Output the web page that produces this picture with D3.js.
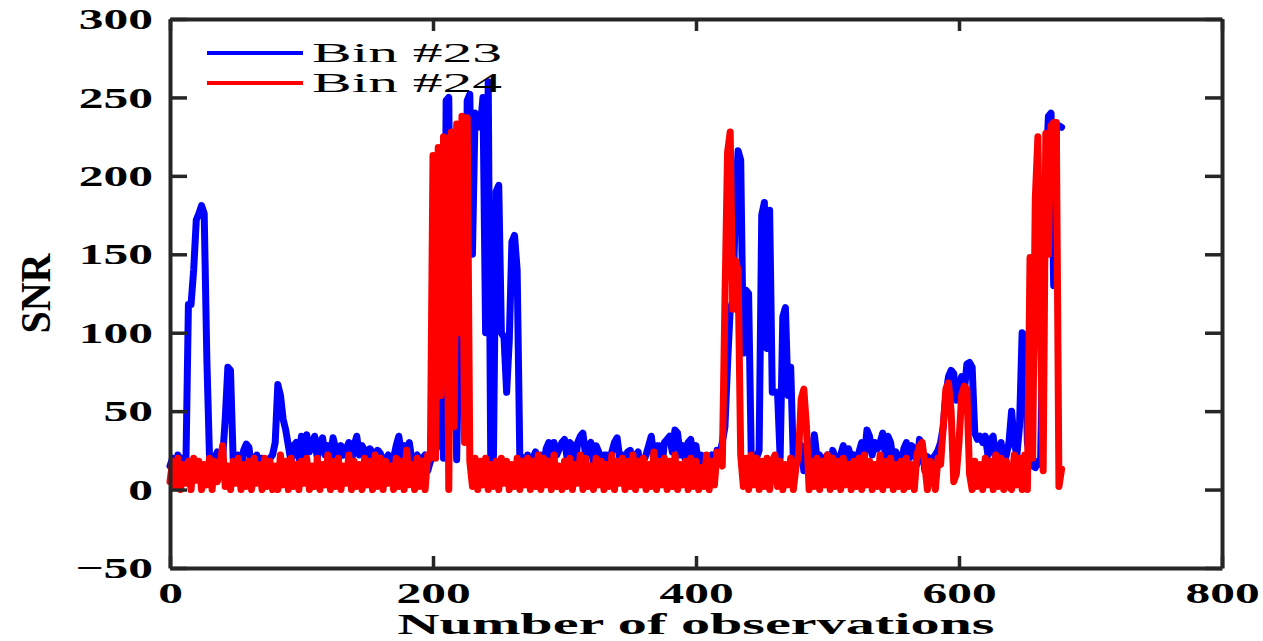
<!DOCTYPE html>
<html>
<head>
<meta charset="utf-8">
<script src="https://cdn.jsdelivr.net/npm/d3@7"></script>
<style>
  html, body { margin: 0; padding: 0; background: #fff; }
  svg { display: block; }
  text { font-family: "Liberation Serif", "Times New Roman", serif; fill: #000; }
</style>
</head>
<body>
<svg id="chart" width="1263" height="641"></svg>
<script>
// SNR per observation, sampled every STEP observations (index i -> observation i*STEP)
const STEP = 2;

const bin23 = [
  15, 20, 8, 22, 16, 20, 10, 118, 118, 140,       // 0-18
  172, 176, 181, 176, 84, 22, 10, 20, 24, 12,     // 20-38
  20, 45, 78, 76, 20, 8, 22, 12, 25, 29,          // 40-58
  27, 14, 18, 22, 10, 20, 18, 8, 20, 22,          // 60-78
  30, 67, 60, 45, 38, 28, 18, 28, 30, 20,         // 80-98
  34, 22, 35, 24, 28, 34, 20, 30, 33, 22,         // 100-118
  28, 20, 33, 26, 18, 28, 22, 26, 30, 18,         // 120-138
  28, 34, 22, 28, 25, 14, 26, 24, 12, 25,         // 140-158
  23, 10, 20, 22, 8, 20, 28, 34, 22, 28,          // 160-178
  24, 30, 18, 20, 22, 10, 20, 22, 12, 18,         // 180-198
  22, 25, 30, 140, 20, 248, 250, 60, 113, 19,     // 200-218
  113, 230, 40, 248, 252, 150, 240, 236, 231, 250, // 220-238
  100, 260, 5, 22, 190, 194, 100, 97, 62, 95,     // 240-258
  158, 162, 140, 22, 20, 8, 22, 15, 20, 24,       // 260-278
  18, 22, 10, 26, 30, 18, 30, 22, 26, 30,         // 280-298
  32, 20, 30, 28, 14, 30, 34, 36, 22, 28,         // 300-318
  30, 16, 28, 24, 12, 22, 22, 10, 24, 30,         // 320-338
  33, 20, 22, 10, 24, 25, 14, 22, 24, 12,         // 340-358
  18, 22, 28, 34, 20, 28, 28, 14, 30, 32,         // 360-378
  34, 24, 38, 36, 22, 28, 18, 30, 32, 20,         // 380-398
  28, 14, 22, 20, 8, 20, 22, 12, 25, 22,          // 400-418
  30, 40, 80, 115, 120, 180, 216, 210, 87, 127,   // 420-438
  125, 22, 18, 20, 25, 175, 183, 90, 178, 62,     // 440-458
  62, 62, 20, 110, 116, 60, 78, 20, 22, 30,       // 460-478
  28, 12, 25, 18, 24, 35, 20, 22, 14, 20,         // 480-498
  22, 10, 25, 20, 12, 22, 28, 18, 26, 20,         // 500-518
  22, 12, 24, 30, 20, 38, 34, 22, 30, 26,         // 520-538
  30, 36, 22, 34, 30, 18, 24, 20, 10, 26,         // 540-558
  30, 20, 28, 26, 16, 32, 28, 12, 21, 18,         // 560-578
  20, 22, 25, 30, 40, 60, 72, 76, 74, 57,         // 580-598
  65, 72, 62, 80, 81, 78, 36, 32, 34, 30,         // 600-618
  34, 22, 32, 34, 18, 26, 30, 16, 22, 30,         // 620-638
  50, 30, 22, 40, 100, 98, 30, 20, 15, 14,        // 640-658
  18, 16, 110, 200, 238, 240, 130, 231, 232, 231  // 660-678
];

const bin24 = [
  5, 18, 2, 20, 0, 16, 4, 18, 0, 20,              // 0-18
  6, 18, 0, 16, 3, 20, 0, 18, 5, 14,              // 20-38
  28, 2, 15, 0, 18, 4, 20, 0, 16, 2,              // 40-58
  18, 0, 20, 4, 16, 0, 20, 2, 18, 0,              // 60-78
  15, 0, 22, 3, 18, 0, 20, 2, 16, 0,              // 80-98
  18, 4, 20, 0, 15, 2, 20, 0, 16, 3,              // 100-118
  22, 0, 18, 2, 20, 0, 15, 4, 22, 0,              // 120-138
  18, 2, 16, 0, 20, 3, 18, 0, 22, 2,              // 140-158
  20, 0, 18, 4, 15, 0, 20, 2, 18, 0,              // 160-178
  25, 3, 16, 0, 20, 2, 18, 0, 22, 20,             // 180-198
  213, 20, 218, 60, 225, 224, 0, 228, 40, 233,    // 200-218
  100, 238, 30, 237, 18, 2, 20, 0, 18, 3,         // 220-238
  20, 0, 16, 2, 18, 0, 20, 4, 18, 0,              // 240-258
  16, 2, 20, 0, 18, 3, 20, 0, 18, 2,              // 260-278
  22, 0, 20, 3, 18, 0, 22, 2, 15, 0,              // 280-298
  18, 2, 20, 0, 16, 4, 22, 0, 20, 2,              // 300-318
  15, 0, 20, 3, 18, 0, 16, 2, 22, 0,              // 320-338
  18, 4, 20, 0, 18, 2, 22, 0, 18, 3,              // 340-358
  20, 0, 16, 2, 24, 0, 18, 3, 20, 0,              // 360-378
  18, 2, 22, 0, 16, 3, 18, 0, 20, 2,              // 380-398
  18, 0, 14, 2, 22, 0, 18, 3, 24, 20,             // 400-418
  15, 120, 215, 228, 115, 146, 140, 22, 2, 20,    // 420-438
  0, 22, 3, 20, 0, 18, 2, 20, 0, 18,              // 440-458
  22, 2, 18, 0, 16, 3, 20, 0, 14, 22,             // 460-478
  58, 64, 40, 0, 18, 2, 20, 0, 18, 3,             // 480-498
  22, 0, 20, 2, 18, 0, 20, 3, 16, 0,              // 500-518
  18, 2, 20, 0, 22, 3, 18, 0, 16, 2,              // 520-538
  22, 0, 18, 3, 20, 0, 16, 2, 18, 0,              // 540-558
  20, 2, 16, 0, 22, 28, 30, 16, 0, 18,            // 560-578
  12, 0, 20, 16, 40, 64, 68, 50, 5, 10,           // 580-598
  30, 60, 66, 64, 10, 0, 18, 2, 16, 0,            // 600-618
  20, 3, 18, 0, 22, 2, 20, 0, 18, 2,              // 620-638
  0, 22, 3, 20, 0, 22, 0, 148, 20, 185,           // 640-658
  225, 100, 12, 227, 150, 232, 234, 234, 2, 13    // 660-678
];

const xTicks = [0, 200, 400, 600, 800];
const yTicks = [-50, 0, 50, 100, 150, 200, 250, 300];
const seriesNames = ["Bin #23", "Bin #24"];
const seriesColors = ["#0000ff", "#ff0000"];
const xTitle = "Number of observations";
const yTitle = "SNR";

const W = 1263, H = 641;
const margin = { left: 170, top: 19, right: 41, bottom: 73 };
const iw = W - margin.left - margin.right;
const ih = H - margin.top - margin.bottom;
const SX = 1.65;          // horizontal stretch of the lettering
const AXIS = "#262626";

const svg = d3.select("#chart");
const g = svg.append("g").attr("transform", `translate(${margin.left},${margin.top})`);

const x = d3.scaleLinear().domain([0, 800]).range([0, iw]);
const y = d3.scaleLinear().domain([-50, 300]).range([ih, 0]);

// data lines
const line = d3.line()
  .x((d, i) => x(i * STEP))
  .y(d => y(d))
  .curve(d3.curveLinear);

[bin23, bin24].forEach((s, k) => {
  g.append("path")
    .datum(s)
    .attr("fill", "none")
    .attr("stroke", seriesColors[k])
    .attr("stroke-width", 7)
    .attr("stroke-linejoin", "round")
    .attr("stroke-linecap", "round")
    .attr("d", line);
});

// axes box with inward ticks
function styleAxis(sel) {
  sel.select(".domain").attr("stroke", AXIS).attr("stroke-width", 4);
  sel.selectAll(".tick line").attr("stroke", AXIS).attr("stroke-width", 3.5);
}

const gLeft = g.append("g")
  .call(d3.axisLeft(y).tickValues(yTicks).tickSize(-17).tickSizeOuter(0).tickPadding(17))
  .call(styleAxis);
gLeft.selectAll(".tick text")
  .attr("font-size", 30).attr("font-weight", "bold").attr("fill", "#000")
  .attr("font-family", '"Liberation Serif", serif')
  .attr("x", -17 / SX)
  .attr("transform", `scale(${SX},1)`);

const gBottom = g.append("g")
  .attr("transform", `translate(0,${ih})`)
  .call(d3.axisBottom(x).tickValues(xTicks).tickSize(-12).tickSizeOuter(0).tickPadding(14))
  .call(styleAxis);
gBottom.selectAll(".tick text")
  .attr("font-size", 30).attr("font-weight", "bold").attr("fill", "#000")
  .attr("font-family", '"Liberation Serif", serif')
  .attr("transform", `scale(${SX},1)`);

g.append("g")
  .call(d3.axisTop(x).tickValues(xTicks).tickSize(-12).tickSizeOuter(0).tickFormat(""))
  .call(styleAxis);

g.append("g")
  .attr("transform", `translate(${iw},0)`)
  .call(d3.axisRight(y).tickValues(yTicks).tickSize(-17).tickSizeOuter(0).tickFormat(""))
  .call(styleAxis);

// axis titles
svg.append("text")
  .attr("x", margin.left + iw / 2)
  .attr("y", 634)
  .attr("text-anchor", "middle")
  .attr("font-size", 30)
  .attr("font-weight", "bold")
  .attr("textLength", 597)
  .attr("lengthAdjust", "spacingAndGlyphs")
  .text(xTitle);

svg.append("text")
  .attr("transform", `translate(50,${margin.top + ih / 2}) scale(1.4,1) rotate(-90)`)
  .attr("text-anchor", "middle")
  .attr("font-size", 30)
  .attr("font-weight", "bold")
  .attr("textLength", 80)
  .attr("lengthAdjust", "spacingAndGlyphs")
  .text(yTitle);

// legend
const legend = g.append("g").attr("transform", "translate(37,34)");
seriesNames.forEach((name, k) => {
  const row = legend.append("g").attr("transform", `translate(0,${k * 30})`);
  row.append("line")
    .attr("x1", 0).attr("x2", 96)
    .attr("y1", 0).attr("y2", 0)
    .attr("stroke", seriesColors[k])
    .attr("stroke-width", 4);
  row.append("text")
    .attr("x", 105)
    .attr("y", 9)
    .attr("font-size", 27)
    .attr("textLength", 190)
    .attr("lengthAdjust", "spacingAndGlyphs")
    .text(name);
});
</script>
</body>
</html>
